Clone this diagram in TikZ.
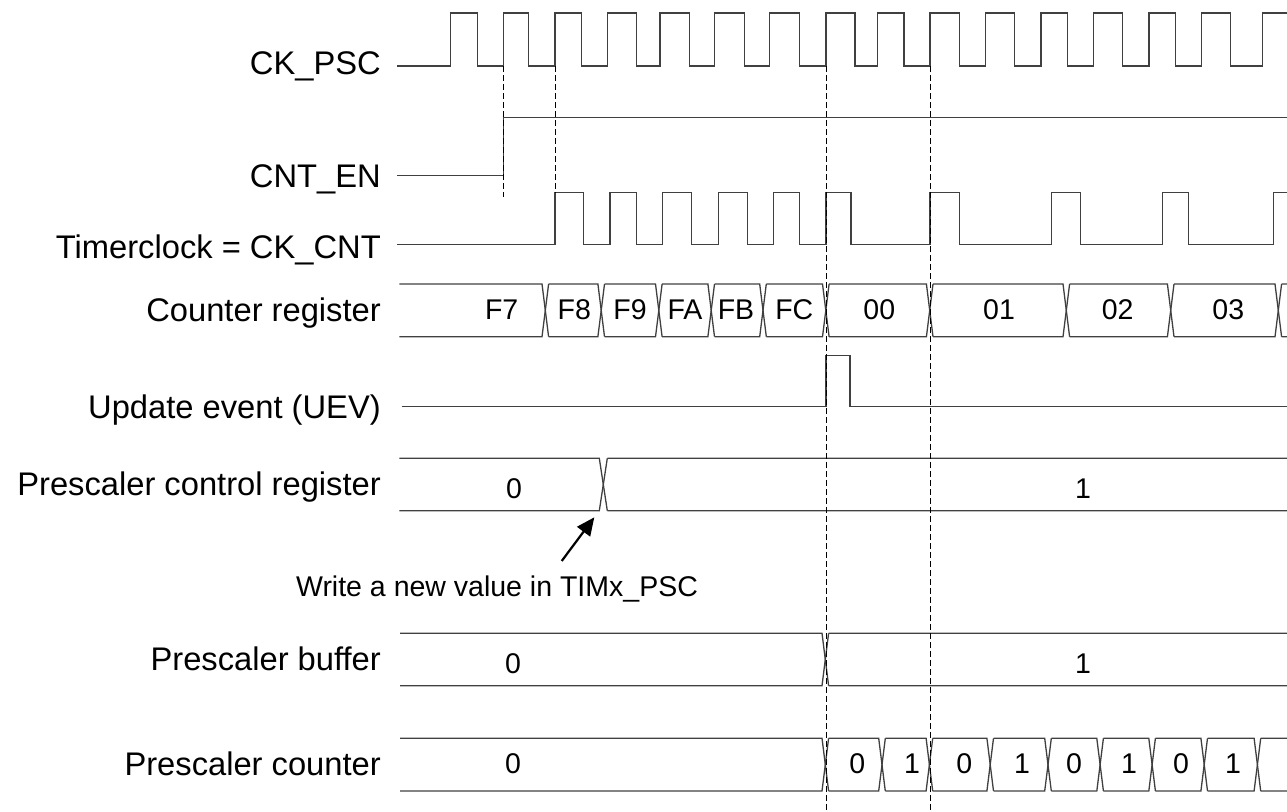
\documentclass[tikz,border=0pt]{standalone}
\usepackage{fontspec}
\setmainfont{Liberation Sans}
\usetikzlibrary{arrows.meta}
\newcommand\busrow[6]{% #1 top y, #2 bottom y, #3 start x, #4 end x, #5 crossings, #6 half width
  \foreach \c [remember=\c as \p (initially {#3-#6})] in {#5,#4} {
    \draw[sig] (\p+#6,#1) -- (\c-#6,#1) -- (\c+#6,#2);
    \draw[sig] (\p+#6,#2) -- (\c-#6,#2) -- (\c+#6,#1);
  }%
}
\begin{document}
\begin{tikzpicture}[x=1pt,y=-1pt,
  sig/.style={line width=1.3pt, draw=black!75, line join=miter},
  guide/.style={line width=1pt, draw=black, dash pattern=on 6pt off 3pt},
  lbl/.style={anchor=base east, inner sep=0pt, font=\fontsize{32.7}{36}\selectfont},
  val/.style={anchor=base, inner sep=0pt, font=\fontsize{28.5}{32}\selectfont},
  note/.style={anchor=base, inner sep=0pt, font=\fontsize{28.5}{32}\selectfont},
  pointer/.style={line width=2.2pt, draw=black, -{Triangle[length=18pt,width=16pt]}}
]
\useasboundingbox (0,0) rectangle (1287,811);
\clip (0,0) rectangle (1287,811);

% labels
\node[lbl] (lckpsc) at (381,74) {CK\_PSC};
\node[lbl] (lcnten) at (381,187.3) {CNT\_EN};
\node[lbl] (ltclk) at (381,258) {Timerclock = CK\_CNT};
\node[lbl] (lcnt) at (381,321.7) {Counter register};
\node[lbl] (luev) at (381,418) {Update event (UEV)};
\node[lbl] (lpcr) at (381,495) {Prescaler control register};
\node[lbl] (lpbuf) at (381,670) {Prescaler buffer};
\node[lbl] (lpcnt) at (381,775) {Prescaler counter};

% CK_PSC
\draw[sig] (397,66) -| (450.7,13) -| (477.3,66) -| (503.3,13) -| (528.7,66)
  -| (555,13) -| (581.7,66) -| (607.7,13) -| (636.7,66) -| (660,13) -| (689.3,66)
  -| (714.3,13) -| (744.3,66) -| (769.3,13) -| (799.3,66) -| (826,13) -| (855,66)
  -| (877.3,13) -| (904,66) -| (930,13) -| (959.3,66) -| (985.7,13) -| (1014.7,66)
  -| (1041,13) -| (1067.3,66) -| (1093.3,13) -| (1122.7,66) -| (1149,13) -| (1175.7,66)
  -| (1201.7,13) -| (1230.7,66) -| (1262.7,13) -- (1300,13);

% CNT_EN
\draw[sig] (397,175.5) -| (503.3,117.3) -- (1300,117.3);

% Timerclock
\draw[sig] (397,244.3) -| (555,192.7) -| (583.3,244.3) -| (610,192.7) -| (636.7,244.3)
  -| (662.7,192.7) -| (691.7,244.3) -| (718.3,192.7) -| (747.7,244.3) -| (773.3,192.7)
  -| (799.3,244.3) -| (826,192.7) -| (851,244.3) -| (930,192.7) -| (959.3,244.3)
  -| (1051.7,192.7) -| (1080.7,244.3) -| (1162.7,192.7) -| (1188.3,244.3)
  -| (1273.3,192.7) -- (1300,192.7);

% Counter register
\busrow{284}{336.7}{399.3}{1330}{545.3,601.2,658.8,711.2,763,825.8,929.7,1066.3,1170.7,1278.3}{3.3}
\node[val] (c0) at (501.7,319.5) {F7};
\node[val] (c1) at (574.3,319.5) {F8};
\node[val] (c2) at (630,319.5) {F9};
\node[val] (c3) at (685,319.5) {FA};
\node[val] (c4) at (736,319.5) {FB};
\node[val] (c5) at (794.3,319.5) {FC};
\node[val] (c6) at (879.3,319.5) {00};
\node[val] (c7) at (999,319.5) {01};
\node[val] (c8) at (1117.7,319.5) {02};
\node[val] (c9) at (1228.3,319.5) {03};

% UEV
\draw[sig] (401.7,406.5) -| (826,355.7) -| (850,406.5) -- (1300,406.5);

% Prescaler control register
\busrow{458.3}{510.7}{399.3}{1330}{603.3}{4}
\node[val] (p0) at (514,498) {0};
\node[val] (p1) at (1083,498) {1};

% annotation
\coordinate (wtail) at (561.7,561);
\coordinate (wtip) at (594.3,517.3);
\draw[pointer] (wtail) -- (wtip);
\node[note] (wnote) at (497,596) {Write a new value in TIMx\_PSC};

% Prescaler buffer
\busrow{633.3}{685.7}{400}{1330}{825.3}{3.3}
\node[val] (b0) at (513,673) {0};
\node[val] (b1) at (1083,673) {1};

% Prescaler counter
\busrow{738.3}{791}{400}{1330}{825.3,882,929.4,990.2,1048,1100.1,1152.1,1204.2,1257.4}{3.3}
\node[val] (q0) at (513,773) {0};
\node[val] (q1) at (857.2,773) {0};
\node[val] (q2) at (912,773) {1};
\node[val] (q3) at (964.2,773) {0};
\node[val] (q4) at (1022,773) {1};
\node[val] (q5) at (1074,773) {0};
\node[val] (q6) at (1129,773) {1};
\node[val] (q7) at (1181,773) {0};
\node[val] (q8) at (1233,773) {1};

% guides
\draw[guide] (503.3,66) -- (503.3,197);
\draw[guide] (555,66) -- (555,192.7);
\draw[guide] (826,66) -- (826,811);
\draw[guide] (930,66) -- (930,811);
\end{tikzpicture}
\end{document}
